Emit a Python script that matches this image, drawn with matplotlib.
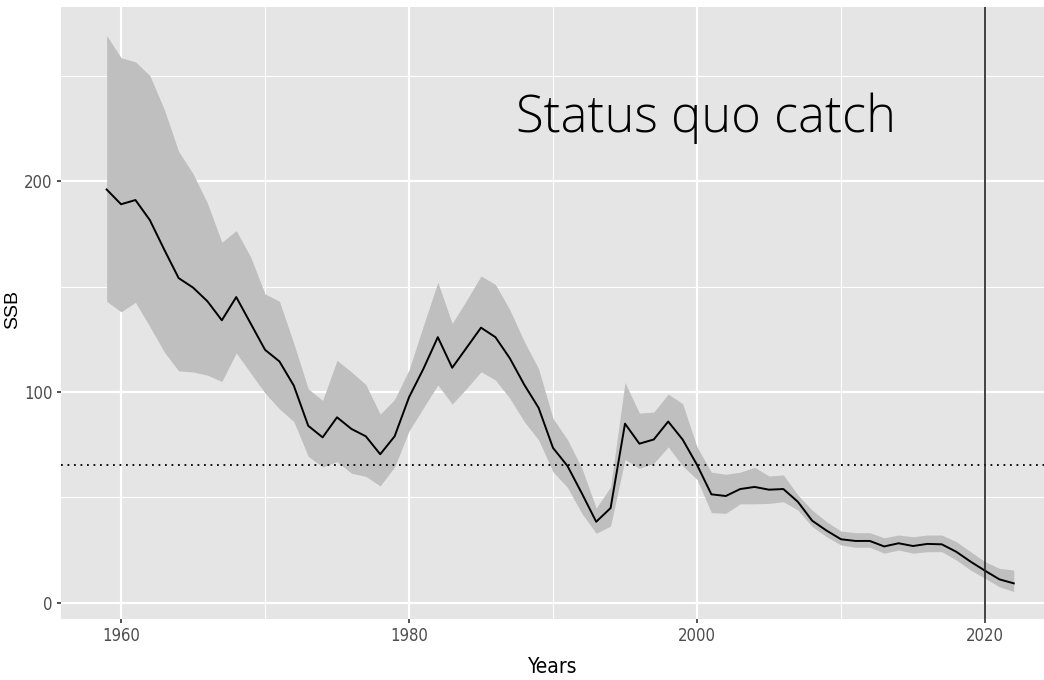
import numpy as np
import matplotlib
matplotlib.use("Agg")
import matplotlib.pyplot as plt
from matplotlib import font_manager

years = list(range(1959, 2023))

ssb = [196, 189, 191, 181.5, 167.5, 154, 149.5, 143, 134, 145,
       132.5, 120, 114.5, 103, 84, 78.5, 88, 82.5, 79, 70.5,
       79, 97.5, 111, 126, 111.5, 121, 130.5, 126, 116, 103.5,
       92.5, 73.5, 65, 52, 38.5, 45, 85, 75.5, 77.5, 86,
       77.5, 65.5, 51.5, 50.7, 54, 55, 53.7, 54, 48, 39,
       34.3, 30.2, 29.4, 29.4, 26.8, 28.3, 27, 28, 27.8, 24.3,
       19.6, 15.3, 11.2, 9.3]

ssb_upper = [269, 258.5, 256.5, 250, 234, 214, 203.5, 189.5, 171, 176.5,
             164, 146.5, 143, 123, 101.5, 96, 115, 109.5, 103.5, 89.5,
             96.5, 110.5, 131.5, 152, 132.5, 143.5, 155, 151, 139, 124,
             111, 87.5, 77.5, 64, 45, 55, 104.5, 90, 90.5, 99,
             94.5, 74, 62, 61, 62, 64.3, 60.2, 60.7, 51.2, 44,
             38.5, 34.1, 33.3, 33.3, 30.9, 32.2, 31.4, 32.2, 32.2, 29.1,
             24.3, 19.6, 16.4, 15.6]

ssb_lower = [143, 138, 142.5, 131, 119, 110, 109.5, 108, 105, 118.5,
             109, 99.5, 92, 86, 69.5, 64.5, 67, 61.5, 60, 55.5,
             64.5, 81.5, 92.5, 103.3, 94.3, 101.7, 109.6, 105.7, 97, 86,
             77.3, 62.2, 54.8, 42.5, 33, 36.5, 68, 63.8, 66.2, 74,
             65, 58.6, 42.8, 42.5, 47, 47, 47.2, 48, 44.1, 36.2,
             31.4, 27.5, 26.4, 26.4, 23.6, 25.1, 23.6, 24.3, 24.3, 20.4,
             15.6, 11.7, 7.7, 5.4]

ref_level = 65.5      # dotted reference line
last_year = 2020      # vertical marker
label = "Status quo catch"

x_major = [1960, 1980, 2000, 2020]
x_minor = [1970, 1990, 2010]
y_major = [0, 100, 200]
y_minor = [50, 150, 250]

# condensed face for axis text
narrow = font_manager.FontProperties(family='DejaVu Sans', stretch='condensed')

fig = plt.figure(figsize=(10.44, 6.8), dpi=100)
ax = fig.add_axes([61/1044, 61/680, 983/1044, 612/680])
ax.set_facecolor('#E5E5E5')

for x in x_minor:
    ax.axvline(x, color='white', lw=0.8, zorder=0)
for y in y_minor:
    ax.axhline(y, color='white', lw=0.8, zorder=0)
for x in x_major:
    ax.axvline(x, color='white', lw=1.6, zorder=0)
for y in y_major:
    ax.axhline(y, color='white', lw=1.6, zorder=0)

ax.fill_between(years, ssb_lower, ssb_upper, color='#BFBFBF', lw=0, zorder=1)
ax.plot(years, ssb, color='black', lw=1.4, zorder=2)
ax.axhline(ref_level, color='black', lw=1.3, ls=(0, (1, 2.6)), zorder=3)
ax.axvline(last_year, color='#222222', lw=1.2, zorder=3)

ax.text(1987.4, 223.4, label, fontsize=36.5, family='Open Sans', weight='light',
        ha='left', va='baseline', color='black')

ax.set_xlim(1955.83, 2024.1)
ax.set_ylim(-7.6, 282.5)
ax.set_xticks(x_major)
ax.set_yticks(y_major)
for t in ax.get_xticklabels() + ax.get_yticklabels():
    t.set_fontproperties(narrow)
    t.set_fontsize(12)
    t.set_color('#4D4D4D')
ax.tick_params(length=3, width=1.2, color='#333333', pad=3)
for s in ax.spines.values():
    s.set_visible(False)

xl = ax.set_xlabel('Years', fontproperties=narrow, color='black')
xl.set_fontsize(15)
ax.xaxis.set_label_coords(0.5, -0.062)
ax.set_ylabel('SSB', family='Liberation Sans', fontsize=14, color='black')
ax.yaxis.set_label_coords(-0.041, 0.506)

fig.savefig('out.png', dpi=100)
